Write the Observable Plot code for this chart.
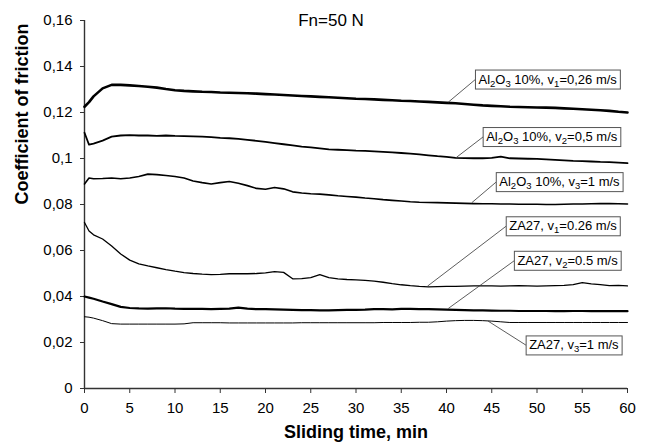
<!DOCTYPE html>
<html><head><meta charset="utf-8">
<script src="https://cdn.jsdelivr.net/npm/d3@7"></script>
<script src="https://cdn.jsdelivr.net/npm/@observablehq/plot@0.6"></script>
<style>html,body{margin:0;padding:0;background:#fff}svg{display:block}</style>
</head><body><div id="chart"></div>
<script>
// ---- data ----
const timeMin = [0, 0.5, 1, 2, 3, 4, 5, 6, 7, 8, 9, 10,
  11, 12, 13, 14, 15, 16, 17, 18, 19, 20,
  21, 22, 23, 24, 25, 26, 27, 28, 29, 30,
  31, 32, 33, 34, 35, 36, 37, 38, 39, 40,
  41, 42, 43, 44, 45, 46, 47, 48, 49, 50,
  51, 52, 53, 54, 55, 56, 57, 58, 59, 60];

const al2o3V1 = [0.1225, 0.1245, 0.127, 0.1305, 0.132, 0.132, 0.1318, 0.1315, 0.1312, 0.1308, 0.1302, 0.1297,
  0.1294, 0.1292, 0.129, 0.1289, 0.1287, 0.1286, 0.1285, 0.1284, 0.1282, 0.128,
  0.1278, 0.1276, 0.1274, 0.1272, 0.127, 0.1268, 0.1266, 0.1264, 0.1262, 0.126,
  0.1259, 0.1257, 0.1255, 0.1253, 0.1251, 0.125, 0.1248, 0.1246, 0.1244, 0.1242,
  0.124, 0.1237, 0.1234, 0.1231, 0.1229, 0.1227, 0.1225, 0.1224, 0.1223, 0.1222,
  0.1221, 0.122, 0.1218, 0.1216, 0.1214, 0.1212, 0.121, 0.1207, 0.1203, 0.12];

const al2o3V2 = [0.1112, 0.106, 0.1065, 0.1078, 0.1095, 0.110, 0.1102, 0.110, 0.110, 0.1098, 0.110, 0.1098,
  0.1097, 0.1096, 0.1095, 0.1093, 0.109, 0.1088, 0.1085, 0.1081, 0.1077, 0.1072,
  0.1067, 0.1062, 0.1057, 0.1052, 0.1048, 0.1044, 0.104, 0.1038, 0.1036, 0.1034,
  0.1033, 0.1031, 0.1029, 0.1027, 0.1024, 0.1021, 0.1018, 0.1014, 0.101, 0.1007,
  0.1003, 0.1002, 0.1001, 0.1001, 0.1003, 0.1008, 0.1001, 0.1, 0.0999, 0.0998,
  0.0996, 0.0994, 0.0992, 0.099, 0.0989, 0.0987, 0.0985, 0.0984, 0.0982, 0.098];

const al2o3V3 = [0.0889, 0.0915, 0.0912, 0.0913, 0.0915, 0.0912, 0.0915, 0.0922, 0.0932, 0.093, 0.0926, 0.0922,
  0.0915, 0.0902, 0.0895, 0.0889, 0.0895, 0.090, 0.0892, 0.0882, 0.087, 0.0866,
  0.0874, 0.0868, 0.0855, 0.085, 0.0847, 0.0845, 0.0842, 0.0838, 0.0835, 0.0832,
  0.0828, 0.0825, 0.0821, 0.0818, 0.0815, 0.0812, 0.081, 0.0809, 0.0808, 0.0807,
  0.0806, 0.0805, 0.0804, 0.0803, 0.0803, 0.0802, 0.0802, 0.0801, 0.0801, 0.0801,
  0.080, 0.080, 0.0801, 0.0802, 0.0802, 0.0803, 0.0804, 0.0804, 0.0803, 0.0802];

const za27V1 = [0.0722, 0.0685, 0.0668, 0.065, 0.062, 0.0585, 0.0558, 0.0542, 0.0533, 0.0525, 0.0517, 0.051,
  0.0504, 0.05, 0.0497, 0.0495, 0.0496, 0.0499, 0.0499, 0.0499, 0.05, 0.0503,
  0.0508, 0.0505, 0.0477, 0.0478, 0.0482, 0.0495, 0.0482, 0.0477, 0.0474, 0.0472,
  0.047, 0.0467, 0.0462, 0.0456, 0.0451, 0.0447, 0.0444, 0.0442, 0.0443, 0.0444,
  0.0444, 0.0445, 0.0446, 0.0446, 0.0446, 0.0445, 0.0446, 0.0447, 0.0446, 0.0445,
  0.0446, 0.0447, 0.0448, 0.0452, 0.046, 0.0455, 0.0452, 0.0447, 0.0448, 0.0446];

const za27V2 = [0.040, 0.0395, 0.039, 0.0378, 0.0367, 0.0355, 0.035, 0.0348, 0.0347, 0.0348, 0.0349, 0.0347,
  0.0346, 0.0346, 0.0346, 0.0345, 0.0346, 0.0347, 0.0352, 0.0347, 0.0345, 0.0345,
  0.0344, 0.0343, 0.0342, 0.0341, 0.0341, 0.034, 0.034, 0.0341, 0.0342, 0.0342,
  0.0343, 0.0345, 0.0345, 0.0344, 0.0346, 0.0346, 0.0345, 0.0345, 0.0344, 0.0343,
  0.0342, 0.0341, 0.034, 0.034, 0.0339, 0.0338, 0.0338, 0.0337, 0.0337, 0.0337,
  0.0337, 0.0336, 0.0336, 0.0337, 0.0337, 0.0336, 0.0336, 0.0336, 0.0336, 0.0336];

const za27V3 = [0.0312, 0.031, 0.0306, 0.0295, 0.0282, 0.028, 0.028, 0.028, 0.028, 0.028, 0.028, 0.028,
  0.0281, 0.0286, 0.0286, 0.0286, 0.0286, 0.0285, 0.0285, 0.0285, 0.0285, 0.0285,
  0.0285, 0.0285, 0.0285, 0.0286, 0.0286, 0.0286, 0.0286, 0.0286, 0.0286, 0.0286,
  0.0286, 0.0286, 0.0287, 0.0287, 0.0287, 0.0287, 0.0288, 0.0288, 0.029, 0.0293,
  0.0295, 0.0296, 0.0296, 0.0295, 0.0293, 0.029, 0.0287, 0.0287, 0.0287, 0.0287,
  0.0287, 0.0287, 0.0287, 0.0287, 0.0287, 0.0287, 0.0287, 0.0287, 0.0287, 0.0287];

const seriesLabels = [
  "Al_2O_3 10%, v_1=0,26 m/s",
  "Al_2O_3 10%, v_2=0,5 m/s",
  "Al_2O_3 10%, v_3=1 m/s",
  "ZA27, v_1=0.26 m/s",
  "ZA27, v_2=0.5 m/s",
  "ZA27, v_3=1 m/s"
];
const seriesValues = [al2o3V1, al2o3V2, al2o3V3, za27V1, za27V2, za27V3];

// annotation boxes (data units) and the point each leader line touches
const labelBoxTime = [43.2, 44.05, 45.5, 46.6, 47.5, 48.8];
const labelBoxValue = [0.1344, 0.1094, 0.0898, 0.0706, 0.0556, 0.0188];
const leaderTime = [40.2, 41.1, 42.8, 37.9, 40.2, 44.6];
const leaderValue = [0.1245, 0.1005, 0.0808, 0.0445, 0.0348, 0.0293];

const xTicks = [0, 5, 10, 15, 20, 25, 30, 35, 40, 45, 50, 55, 60];
const yTicks = [0, 0.02, 0.04, 0.06, 0.08, 0.1, 0.12, 0.14, 0.16];
const titleText = "Fn=50 N";
const xTitle = "Sliding time, min";
const yTitle = "Coefficient of friction";

// ---- styles ----
const lineWidths = [2.6, 1.8, 1.6, 1.3, 2.2, 1.0];

const rows = seriesValues.flatMap((vals, s) =>
  timeMin.map((t, i) => ({t, v: vals[i], s})));
const annots = seriesLabels.map((label, i) => ({
  label, bt: labelBoxTime[i], bv: labelBoxValue[i], pt: leaderTime[i], pv: leaderValue[i]
}));

const fmtY = d => d === 0 ? "0" : String(+d.toFixed(2)).replace(".", ",");

const plot = Plot.plot({
  width: 646, height: 447,
  marginLeft: 84, marginRight: 19, marginTop: 20, marginBottom: 59,
  style: {fontFamily: "'Liberation Sans', Arial, sans-serif", fontSize: "15px", background: "#fff", color: "#000"},
  x: {domain: [0, 60]},
  y: {domain: [0, 0.16]},
  marks: [
    Plot.axisY({ticks: yTicks, tickFormat: fmtY, tickSize: 4, tickPadding: 8, label: null, fontSize: 15, stroke: "#333"}),
    Plot.axisX({ticks: xTicks, tickSize: 5, tickPadding: 9, label: null, fontSize: 15, stroke: "#333"}),
    Plot.ruleX([0], {stroke: "#333", strokeWidth: 1.4}),
    Plot.ruleY([0], {stroke: "#333", strokeWidth: 1.4}),
    ...seriesValues.map((_, s) => Plot.line(rows.filter(r => r.s === s), {
      x: "t", y: "v", stroke: "#000", strokeWidth: lineWidths[s], strokeLinejoin: "round"
    })),
    Plot.link(annots, {x1: "pt", y1: "pv", x2: "bt", y2: "bv", stroke: "#333", strokeWidth: 0.8}),
    Plot.text(annots, {x: "bt", y: "bv", text: "label", textAnchor: "start", dx: 3, fontSize: 13, fill: "#000"}),
    Plot.text([titleText], {frameAnchor: "top", lineAnchor: "middle", dx: -25, dy: 0, fontSize: 17, fill: "#000"}),
    Plot.text([xTitle], {frameAnchor: "bottom", dy: 49, fontSize: 18, fontWeight: "bold", fill: "#000"}),
    Plot.text([yTitle], {frameAnchor: "left", dx: -62, rotate: -90, fontSize: 18, fontWeight: "bold", fill: "#000"})
  ]
});
document.getElementById("chart").append(plot);

// subscripts + boxes for the annotation labels
const NS = "http://www.w3.org/2000/svg";
plot.querySelectorAll("text").forEach(el => {
  const s = el.textContent;
  if (!s.includes("_")) return;
  const parts = [];
  for (let k = 0; k < s.length; k++) {
    if (s[k] === "_") { parts.push({t: s[k + 1], sub: true}); k++; }
    else if (parts.length && !parts[parts.length - 1].sub) parts[parts.length - 1].t += s[k];
    else parts.push({t: s[k], sub: false});
  }
  while (el.firstChild) el.removeChild(el.firstChild);
  let shifted = false;
  parts.forEach(p => {
    const ts = document.createElementNS(NS, "tspan");
    ts.textContent = p.t;
    if (p.sub) { ts.setAttribute("font-size", "9.5"); if (!shifted) { ts.setAttribute("dy", "3"); shifted = true; } }
    else if (shifted) { ts.setAttribute("dy", "-3"); shifted = false; }
    el.appendChild(ts);
  });
  const bb = el.getBBox();
  const rect = document.createElementNS(NS, "rect");
  rect.setAttribute("x", bb.x - 3);
  rect.setAttribute("y", bb.y + bb.height / 2 - 9.5 - 0.5);
  rect.setAttribute("width", bb.width + 6);
  rect.setAttribute("height", 19);
  rect.setAttribute("fill", "#fff");
  rect.setAttribute("stroke", "#555");
  rect.setAttribute("stroke-width", "1");
  const tr = el.getAttribute("transform");
  if (tr) rect.setAttribute("transform", tr);
  el.parentNode.insertBefore(rect, el);
});
</script>
</body></html>
